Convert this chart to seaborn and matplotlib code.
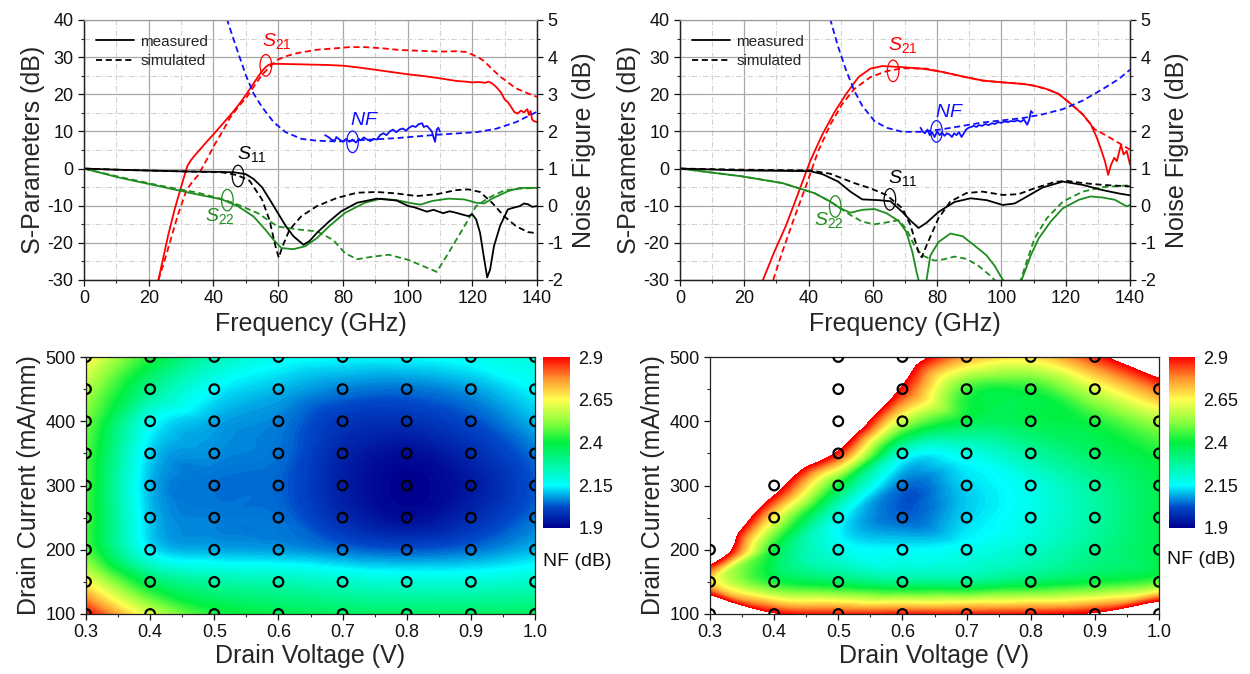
import numpy as np
import matplotlib
matplotlib.use("Agg")
import matplotlib.pyplot as plt
import matplotlib.tri as mtri
from matplotlib.colors import LinearSegmentedColormap, Normalize
from matplotlib.cm import ScalarMappable
from matplotlib.patches import Ellipse
from matplotlib.lines import Line2D
from matplotlib.ticker import MultipleLocator
import seaborn as sns

sns.set_style("ticks")
plt.rcParams["font.family"] = ["Liberation Sans", "DejaVu Sans"]
plt.rcParams["mathtext.fontset"] = "custom"
plt.rcParams["mathtext.rm"] = "Liberation Sans"
plt.rcParams["mathtext.it"] = "Liberation Sans:italic"
plt.rcParams["axes.unicode_minus"] = False

# ---------------- amplifier A : S-parameters (dB) and noise figure (dB) ----------------
A_S21_MEAS_F = [23, 24, 25, 26, 27, 28, 29, 30, 31, 32, 33, 34, 35, 36, 38, 40, 42, 44, 46, 48, 50,
                52, 54, 55, 56, 57, 58, 60, 65, 70, 75, 80, 85, 90, 95, 100, 105, 110, 115, 118,
                120, 122, 124, 125, 126, 127, 128, 129, 130, 131, 132, 133, 134, 135, 136, 137,
                137.5, 138, 138.5, 139, 140]
A_S21_MEAS = [-30, -26, -22, -18, -14.5, -11, -8, -5, -2, 0.8, 2.2, 3.3, 4.3, 5.3, 7.3, 9.2, 11.2,
              13.2, 15.2, 17.4, 19.8, 22.4, 25, 26.2, 27.2, 27.9, 28.2, 28.2, 28.1, 28.0, 27.9,
              27.7, 27.2, 26.6, 26.0, 25.4, 24.9, 24.3, 23.6, 23.4, 23.2, 23.3, 23.1, 23.4, 23.0,
              22.3, 21.4, 20.3, 18.6, 17.9, 16.6, 15.2, 14.8, 15.6, 15.1, 16.0, 14.4, 15.5,
              13.2, 12.8, 12.5]
A_S21_SIM_F = [23, 25, 27, 29, 31.6, 33.5, 35.2, 38, 40.2, 43, 45, 48, 50, 52.5, 55, 57.5, 59.8,
               63, 66, 72, 78, 82, 86.8, 92, 96.6, 101, 106.5, 111, 115, 118, 120, 122, 123.7,
               126, 128.6, 131, 133.5, 137, 140]
A_S21_SIM = [-30, -24.5, -18.5, -12.5, -6, -3.5, -1.9, 2.5, 6.2, 10.3, 13.5, 17, 18.9, 22.1, 25.2,
             27.5, 29.3, 30.4, 31.1, 32, 32.4, 32.7, 32.7, 32.4, 32, 31.8, 31.6, 31.5, 31.6,
             31.4, 30.7, 29.9, 28.9, 26.9, 24.8, 23.2, 21.6, 20.3, 19.3]
A_S11_MEAS_F = [0, 10, 23, 33, 42.6, 46.3, 50, 52.4, 55, 57.3, 59.8, 62.3, 64.7, 67.8, 69.6, 72,
                75.8, 79.5, 84.4, 90.5, 96.6, 100.3, 102, 104, 106, 108, 109, 111, 113, 115,
                117, 118.8, 120, 121.2, 122.4, 123.7, 124.6, 125.5, 126.7, 128.6, 131, 132.5,
                134.7, 136, 137.2, 138.5, 140]
A_S11_MEAS = [0, -0.3, -0.6, -0.8, -0.9, -1.0, -1.5, -2.8, -5, -8.2, -11.8, -15.4, -18.2, -20.5,
              -19.6, -17.3, -14.2, -11.5, -9.2, -8.1, -8.6, -10.1, -10.4, -11.0, -11.6, -11.1,
              -11.4, -12.0, -11.5, -11.9, -12.4, -12.8, -12.3, -13.7, -17.3, -24.5, -29.3, -27.2,
              -20.9, -15.4, -11.0, -10.6, -10.1, -9.4, -9.6, -10.3, -10.1]
A_S11_SIM_F = [0, 10, 23, 33, 42.6, 47.5, 51.2, 55, 57.3, 59.2, 60.2, 61.3, 63.5, 67.2, 72, 78.2,
               84.4, 90.5, 96.6, 102.8, 109, 115, 118.8, 122.4, 126.1, 129.8, 133.5, 137.2, 140]
A_S11_SIM = [0, -0.3, -0.6, -0.8, -1.0, -1.8, -3.3, -8.3, -13.8, -21, -24, -21, -16.5, -12.8,
             -10.1, -7.9, -6.5, -6.3, -6.7, -7.4, -6.9, -5.8, -5.6, -6.3, -9.2, -12.8, -15.5,
             -17.1, -17.4]
A_S22_MEAS_F = [0, 10.7, 23, 35.2, 42.6, 47.5, 52.4, 56.1, 58.6, 61, 64.7, 68.4, 72, 75.8, 80.7,
                86.8, 91.7, 96.6, 101.6, 104, 107.7, 112.6, 117.5, 121.2, 123.7, 126.1, 131,
                134.7, 140]
A_S22_MEAS = [0, -2.4, -4.7, -7, -8.3, -10.1, -12.9, -16.5, -19.2, -21.4, -21.7, -20.9, -18.7,
              -15.5, -11.9, -9.2, -8.1, -8.5, -9.4, -9.7, -8.7, -8.1, -8.3, -9.2, -9.4, -8.1,
              -6.1, -5.2, -5.2]
A_S22_SIM_F = [0, 10.7, 23, 35.2, 42.6, 47.5, 53.7, 59.8, 67.2, 72, 77, 80.7, 84.4, 89.3, 94.2,
               100.3, 105.2, 109, 112.6, 117.5, 121.2, 125, 129.8, 134.7, 140]
A_S22_SIM = [0, -2.2, -4.5, -6.5, -8.2, -9.7, -12, -15.6, -16.5, -16.9, -19.2, -22.8, -24.4,
             -23.7, -23.2, -24.6, -26.4, -27.8, -22.8, -15.6, -10.1, -7.9, -5.9, -5.4, -5.2]
A_NF_SIM_F = [43.8, 44.5, 47.5, 50, 52.4, 55, 58.6, 62.3, 67.2, 72, 78.2, 84.4, 96.6, 109, 121.2,
              127.3, 133.5, 140]
A_NF_SIM = [5.3, 4.93, 4.15, 3.52, 3.02, 2.66, 2.25, 1.98, 1.8, 1.75, 1.73, 1.76, 1.82, 1.91,
            1.98, 2.07, 2.25, 2.53]
A_NF_MEAS_F = [74.5, 75.5, 76.5, 77.5, 78, 79, 80, 81, 82, 83, 84, 85, 85.5, 86.5, 87.5, 88.5,
               89.5, 90.5, 91.5, 92.5, 93.5, 94.5, 95.5, 96.5, 97.5, 98.5, 99.5, 100.5, 101.5,
               102.5, 103.5, 104.5, 105, 106, 107, 107.5, 108, 108.5, 109, 109.5, 110]
A_NF_MEAS = [1.9, 1.85, 1.78, 1.75, 1.85, 1.78, 1.72, 1.8, 1.72, 1.78, 1.7, 1.8, 1.76, 1.84,
             1.78, 1.74, 1.8, 1.78, 1.9, 1.95, 1.9, 2.0, 2.05, 1.98, 2.05, 2.08, 2.02, 2.1,
             2.15, 2.12, 2.2, 2.22, 2.12, 2.15, 2.05, 2.0, 1.85, 1.72, 2.05, 2.1, 2.0]

# ---------------- amplifier B ----------------
B_S21_MEAS_F = [25.8, 29.3, 33, 36.8, 40.5, 44.3, 48, 51.7, 55.5, 59.2, 63, 69.2, 75.4, 81.7,
                87.9, 94.1, 100.4, 106.6, 110.3, 114.1, 117.8, 121.6, 125.3, 127.8, 129.7, 131,
                132.2, 133.2, 134.1, 135.1, 135.9, 137.2, 138, 139, 140]
B_S21_MEAS = [-30, -22.5, -15.3, -6.6, 2, 9.2, 15.1, 20.1, 24.6, 26.9, 27.6, 27.3, 26.9, 26,
              24.8, 23.7, 23.2, 22.8, 22.3, 21.4, 20.1, 17.4, 14.6, 11.9, 8.3, 5.1, 2, -1.7, 1,
              2.9, 2, 6.4, 3.8, 4.7, 1.1]
B_S21_SIM_F = [29, 31.8, 35.5, 39.3, 43, 46.8, 50.5, 54.2, 59.2, 64.2, 69.2, 76.7, 81.7, 87.9,
               94.1, 100.4, 106.6, 110.3, 114.1, 117.8, 121.6, 125.3, 129, 132.8, 136.5, 140]
B_S21_SIM = [-30, -22.5, -13.4, -4.4, 4.7, 11.9, 17.4, 21.4, 24.6, 26.2, 27, 26.9, 26, 24.8,
             23.7, 23.2, 22.8, 22.3, 21.4, 20.1, 17.4, 14.6, 10.6, 8.8, 6.9, 5.1]
B_S11_MEAS_F = [0, 19.3, 40.5, 44.3, 49.2, 53, 56.7, 61.7, 65.5, 69.2, 71.7, 74.2, 76.7, 80.4,
                85.4, 90.4, 95.4, 100.4, 104.1, 107.8, 112.8, 119.1, 125.3, 131.5, 136.5, 140]
B_S11_MEAS = [0, -0.5, -0.7, -1.5, -3.5, -6.2, -8.3, -8.5, -8.8, -11.7, -14, -16, -14.6, -11.7,
              -9, -8, -8.5, -9.8, -9.4, -7.6, -5.1, -3.5, -4.4, -5.8, -6.7, -7.2]
B_S11_SIM_F = [0, 19.3, 40.5, 46.8, 54.2, 59.2, 64.2, 69.2, 71.7, 74.2, 75.2, 76.7, 80.4, 84.1,
               89.1, 94.1, 100.4, 105.3, 110.3, 116.6, 120.3, 125.3, 131.5, 140]
B_S11_SIM = [0, -0.3, -0.5, -1.4, -3.9, -5.3, -7.1, -10.7, -15.2, -22.5, -23.9, -20.7, -13.4,
             -8.9, -6.6, -6.2, -7.1, -6.9, -5.3, -3.6, -3.3, -3.9, -4.4, -4.8]
B_S22_MEAS_F = [0, 19.3, 31.8, 41.8, 46.8, 49.9, 53, 56.7, 60.5, 64.2, 68, 70.4, 72.3, 73.6,
                74.4, 75.5, 76.7, 77.9, 80.4, 84.1, 87.9, 91.6, 95.4, 97.9, 99.7, 101, 103.5,
                106, 107.2, 109.1, 111.6, 115.3, 119.1, 124.1, 127.8, 131.5, 135.3, 139, 140]
B_S22_MEAS = [0, -2.1, -3.9, -6.6, -8.9, -10.7, -11.9, -11.1, -10.9, -12, -14.1, -17, -22.5,
              -27.9, -30.6, -38, -30, -23.4, -19.8, -17.5, -18.2, -20.7, -23.4, -26.2, -28.9,
              -30.6, -38, -30.6, -27.9, -23.4, -18.8, -14.3, -10.7, -8.4, -7.5, -7.8, -8.4,
              -10.2, -9.8]
B_S22_SIM_F = [0, 19.3, 31.8, 41.8, 46.8, 49.9, 53, 56.7, 60.5, 64.2, 68, 70.4, 72.9, 75.4, 79.2,
               81.7, 85.4, 89.1, 92.9, 96.6, 98.5, 102, 106, 107.8, 110.3, 114.1, 119.1, 125.3,
               131.5, 140]
B_S22_SIM = [0, -2.1, -3.9, -6.6, -8.9, -10.7, -12.5, -14.3, -15, -14.5, -13.9, -16.2, -20.7,
             -23.4, -24.8, -24.5, -23.7, -24.3, -26.2, -28.9, -30.6, -40, -30, -25.2, -18.8,
             -13.4, -8.9, -6.2, -5, -4.5]
B_NF_SIM_F = [46.3, 46.8, 49.2, 51.7, 54.2, 56.7, 60.5, 64.2, 69.2, 75.4, 81.7, 87.9, 94.1,
              100.4, 106.6, 112.8, 119.1, 125.3, 131.5, 136.5, 140]
B_NF_SIM = [5.3, 5.0, 4.28, 3.64, 3.1, 2.69, 2.28, 2.1, 1.99, 1.99, 2.06, 2.15, 2.24, 2.3,
            2.36, 2.46, 2.6, 2.83, 3.14, 3.41, 3.66]
B_NF_MEAS_F = [74.8, 75.5, 76.2, 77, 77.7, 78.4, 79.2, 80, 80.8, 81.5, 82.3, 83, 83.8, 84.6,
               85.3, 86, 86.8, 87.6, 88.3, 89, 89.8, 90.6, 91.4, 92.2, 93, 94, 95, 96, 97, 98,
               99, 100, 101, 102, 103, 104, 105, 106, 107, 108, 108.6, 109.2, 109.7]
B_NF_MEAS = [2.1, 2.0, 1.95, 2.05, 1.9, 1.98, 1.85, 2.0, 1.9, 1.97, 1.88, 1.95, 1.92, 1.85,
             1.95, 1.9, 1.98, 1.85, 1.95, 2.05, 2.1, 2.12, 2.15, 2.12, 2.17, 2.15, 2.2, 2.17,
             2.22, 2.2, 2.25, 2.23, 2.27, 2.25, 2.28, 2.27, 2.3, 2.26, 2.32, 2.18, 2.3, 2.55, 2.5]

# ---------------- bias sweeps: NF (dB) vs drain voltage / drain current ----------------
DRAIN_V = [0.3, 0.4, 0.5, 0.6, 0.7, 0.8, 0.9, 1.0]
DRAIN_I = [100, 150, 200, 250, 300, 350, 400, 450, 500]
# one row per drain current (100 -> 500), one column per drain voltage (0.3 -> 1.0)
NF_A = [
    [2.90, 2.60, 2.43, 2.38, 2.36, 2.35, 2.35, 2.35],
    [2.65, 2.36, 2.27, 2.25, 2.22, 2.20, 2.20, 2.22],
    [2.47, 2.14, 2.09, 2.08, 2.05, 2.03, 2.05, 2.10],
    [2.46, 2.11, 2.06, 2.05, 1.97, 1.92, 1.97, 2.05],
    [2.46, 2.10, 2.05, 2.04, 1.95, 1.90, 1.94, 2.03],
    [2.47, 2.12, 2.07, 2.05, 1.96, 1.92, 1.97, 2.05],
    [2.50, 2.17, 2.09, 2.06, 1.99, 1.98, 2.02, 2.10],
    [2.56, 2.30, 2.15, 2.10, 2.06, 2.05, 2.08, 2.15],
    [2.66, 2.42, 2.25, 2.17, 2.15, 2.15, 2.17, 2.20],
]
NF_B = [
    [3.40, 2.92, 2.87, 2.87, 2.87, 2.88, 2.93, 3.25],
    [2.70, 2.42, 2.35, 2.30, 2.30, 2.35, 2.40, 2.47],
    [3.20, 2.40, 2.18, 2.15, 2.17, 2.22, 2.30, 2.38],
    [3.40, 2.65, 2.17, 2.04, 2.12, 2.18, 2.27, 2.38],
    [3.60, 3.00, 2.40, 2.05, 2.12, 2.18, 2.28, 2.38],
    [3.60, 3.30, 2.87, 2.20, 2.18, 2.27, 2.35, 2.42],
    [3.60, 3.50, 3.20, 2.58, 2.38, 2.38, 2.42, 2.55],
    [3.60, 3.50, 3.30, 2.88, 2.45, 2.42, 2.60, 2.80],
    [3.60, 3.50, 3.50, 3.05, 2.75, 2.68, 2.86, 3.12],
]
# measured bias points (voltage, current)
PTS_A_V = [v for i in DRAIN_I for v in DRAIN_V]
PTS_A_I = [i for i in DRAIN_I for v in DRAIN_V]
PTS_B_V = ([0.3, 0.4, 0.5, 0.6, 0.7, 0.8, 0.9, 1.0] * 3 + [0.4, 0.5, 0.6, 0.7, 0.8, 0.9, 1.0] * 2
           + [0.5, 0.6, 0.7, 0.8, 0.9, 1.0] * 3 + [0.5, 0.6, 0.7, 0.8, 0.9])
PTS_B_I = ([100] * 8 + [150] * 8 + [200] * 8 + [250] * 7 + [300] * 7
           + [350] * 6 + [400] * 6 + [450] * 6 + [500] * 5)

NF_TICKS = [1.9, 2.15, 2.4, 2.65, 2.9]
NF_TICK_LABELS = ["1.9", "2.15", "2.4", "2.65", "2.9"]

RED, BLUE, GREEN, BLACK = "#ff0000", "#1010ff", "#1e8c1e", "#000000"
DASH = (0, (3.4, 2.0))
W, H = 1250, 674

fig = plt.figure(figsize=(12.5, 6.74), dpi=100)


def frac(x0, y0, x1, y1):
    return [x0 / W, 1 - y1 / H, (x1 - x0) / W, (y1 - y0) / H]


def curve(ax, f, v, color, ls="-"):
    sns.lineplot(x=f, y=v, ax=ax, color=color, linestyle=ls, linewidth=1.3,
                 estimator=None, sort=False, legend=False)


def tag(ax, center, color, text, txt_xy):
    ax.add_patch(Ellipse(center, 3.6, 5.8, fill=False, ec=color, lw=0.9, zorder=5))
    ax.text(txt_xy[0], txt_xy[1], text, color=color, fontsize=14, ha="left",
            va="baseline", zorder=5)


def sparam_panel(rect, d, tags):
    ax = fig.add_axes(frac(*rect))
    ax2 = ax.twinx()
    ax.set_axisbelow(True)
    curve(ax, d["s21mf"], d["s21m"], RED)
    curve(ax, d["s21sf"], d["s21s"], RED, DASH)
    curve(ax, d["s22sf"], d["s22s"], GREEN, DASH)
    curve(ax, d["s22mf"], d["s22m"], GREEN)
    curve(ax, d["s11sf"], d["s11s"], BLACK, DASH)
    curve(ax, d["s11mf"], d["s11m"], BLACK)
    curve(ax2, d["nfsf"], d["nfs"], BLUE, DASH)
    curve(ax2, d["nfmf"], d["nfm"], BLUE)

    ax.set_xlim(0, 140)
    ax.set_ylim(-30, 40)
    ax2.set_ylim(-2, 5)
    ax.xaxis.set_major_locator(MultipleLocator(20))
    ax.xaxis.set_minor_locator(MultipleLocator(10))
    ax.yaxis.set_major_locator(MultipleLocator(10))
    ax.yaxis.set_minor_locator(MultipleLocator(5))
    ax2.yaxis.set_major_locator(MultipleLocator(1))
    ax2.yaxis.set_minor_locator(MultipleLocator(0.5))
    ax.grid(which="major", color="#a8a8a8", lw=0.9)
    ax.grid(which="minor", color="#d2d2d2", lw=0.8, ls=(0, (5, 2, 1, 2)))
    for a in (ax, ax2):
        a.tick_params(which="major", direction="out", length=4, width=0.9,
                      labelsize=13, colors="#111111")
        a.tick_params(which="minor", direction="out", length=2.5, width=0.8)
        for side in ("left", "bottom", "right"):
            a.spines[side].set_color("#222222")
            a.spines[side].set_linewidth(0.9)
        a.spines["top"].set_color("#9a9a9a")
    ax.set_xlabel("Frequency (GHz)", fontsize=18, labelpad=3)
    ax.set_ylabel("S-Parameters (dB)", fontsize=18, labelpad=2)
    ax2.set_ylabel("Noise Figure (dB)", fontsize=18, labelpad=6)

    handles = [Line2D([], [], color="k", lw=1.3),
               Line2D([], [], color="k", lw=1.3, ls=DASH)]
    ax.legend(handles, ["measured", "simulated"], loc="upper left",
              bbox_to_anchor=(0.0, 0.99), frameon=False, fontsize=11,
              handlelength=2.5, handletextpad=0.4, labelspacing=0.35,
              borderaxespad=0.4)

    for center, color, text, txy in tags:
        tag(ax, center, color, text, txy)
    return ax


A = dict(s21mf=A_S21_MEAS_F, s21m=A_S21_MEAS, s21sf=A_S21_SIM_F, s21s=A_S21_SIM,
         s11mf=A_S11_MEAS_F, s11m=A_S11_MEAS, s11sf=A_S11_SIM_F, s11s=A_S11_SIM,
         s22mf=A_S22_MEAS_F, s22m=A_S22_MEAS, s22sf=A_S22_SIM_F, s22s=A_S22_SIM,
         nfsf=A_NF_SIM_F, nfs=A_NF_SIM, nfmf=A_NF_MEAS_F, nfm=A_NF_MEAS)
B = dict(s21mf=B_S21_MEAS_F, s21m=B_S21_MEAS, s21sf=B_S21_SIM_F, s21s=B_S21_SIM,
         s11mf=B_S11_MEAS_F, s11m=B_S11_MEAS, s11sf=B_S11_SIM_F, s11s=B_S11_SIM,
         s22mf=B_S22_MEAS_F, s22m=B_S22_MEAS, s22sf=B_S22_SIM_F, s22s=B_S22_SIM,
         nfsf=B_NF_SIM_F, nfs=B_NF_SIM, nfmf=B_NF_MEAS_F, nfm=B_NF_MEAS)

sparam_panel((84, 20, 537, 280), A, [
    ((56.2, 27.8), RED, r"$S_{21}$", (54.9, 32.9)),
    ((83.0, 7.2), BLUE, r"$NF$", (82.2, 11.6)),
    ((47.6, -2.0), BLACK, r"$S_{11}$", (47.3, 2.6)),
    ((44.3, -8.5), GREEN, r"$S_{22}$", (37.5, -14.2)),
])
sparam_panel((680, 20, 1130, 280), B, [
    ((66.3, 26.3), RED, r"$S_{21}$", (64.8, 31.8)),
    ((79.8, 10.0), BLUE, r"$NF$", (79.2, 13.9)),
    ((65.3, -8.3), BLACK, r"$S_{11}$", (64.8, -3.9)),
    ((48.3, -10.2), GREEN, r"$S_{22}$", (41.8, -15.3)),
])

# ---------------- NF contour maps ----------------
nf_cmap = LinearSegmentedColormap.from_list("nf", [
    (0.00, "#00008e"), (0.12, "#0048c8"), (0.25, "#00ffff"), (0.50, "#00f040"),
    (0.62, "#8cff3c"), (0.75, "#ffff50"), (0.87, "#ff9a30"), (1.00, "#ff0000")])


def nf_panel(rect, crect, label_xy, grid_nf, pts_v, pts_i):
    norm = Normalize(NF_TICKS[0], NF_TICKS[-1])
    ax = fig.add_axes(frac(*rect))
    z = np.asarray(grid_nf, dtype=float).ravel()
    gx, gy = np.meshgrid(np.arange(len(DRAIN_V)), np.arange(len(DRAIN_I)))
    tri = mtri.Triangulation(gx.ravel().astype(float), gy.ravel().astype(float))
    interp = mtri.CubicTriInterpolator(tri, z, kind="geom")
    tri_f, z_f = mtri.UniformTriRefiner(tri).refine_field(z, triinterpolator=interp, subdiv=4)
    tri_xy = mtri.Triangulation(np.interp(tri_f.x, np.arange(len(DRAIN_V)), DRAIN_V),
                                np.interp(tri_f.y, np.arange(len(DRAIN_I)), DRAIN_I),
                                tri_f.triangles)
    z_f = np.clip(np.asarray(z_f), NF_TICKS[0], None)
    ax.tricontourf(tri_xy, z_f, levels=np.linspace(NF_TICKS[0], NF_TICKS[-1], 161),
                   cmap=nf_cmap, norm=norm, antialiased=False, zorder=1)

    sns.scatterplot(x=pts_v, y=pts_i, ax=ax, s=48, marker="o", legend=False, zorder=3)
    pts = ax.collections[-1]
    pts.set_facecolor("none")
    pts.set_edgecolor("black")
    pts.set_linewidth(1.6)

    ax.set_xlim(0.3, 1.0)
    ax.set_ylim(100, 500)
    ax.set_xticks(DRAIN_V)
    ax.set_xticklabels([f"{v:.1f}" for v in DRAIN_V])
    ax.xaxis.set_minor_locator(MultipleLocator(0.05))
    ax.yaxis.set_major_locator(MultipleLocator(100))
    ax.yaxis.set_minor_locator(MultipleLocator(50))
    ax.tick_params(which="major", direction="out", length=4, width=0.9, labelsize=13,
                   colors="#111111")
    ax.tick_params(which="minor", direction="out", length=2.5, width=0.8)
    for s in ax.spines.values():
        s.set_color("#222222")
        s.set_linewidth(0.9)
    ax.set_xlabel("Drain Voltage (V)", fontsize=18, labelpad=2)
    ax.set_ylabel("Drain Current (mA/mm)", fontsize=18, labelpad=3)

    cax = fig.add_axes(frac(*crect))
    cb = fig.colorbar(ScalarMappable(norm=norm, cmap=nf_cmap), cax=cax)
    cb.set_ticks(NF_TICKS, labels=NF_TICK_LABELS)
    cb.outline.set_visible(False)
    cb.ax.tick_params(length=0, labelsize=13, pad=6, colors="#111111")
    fig.text(label_xy[0] / W, 1 - label_xy[1] / H, "NF (dB)", fontsize=14,
             ha="left", va="center", color="#111111")


nf_panel((86, 357, 535, 614), (543, 357, 570, 528), (543, 561), NF_A, PTS_A_V, PTS_A_I)
nf_panel((710, 357, 1159, 614), (1169, 357, 1195, 528), (1167, 560), NF_B, PTS_B_V, PTS_B_I)

fig.savefig("out.png", dpi=100)
